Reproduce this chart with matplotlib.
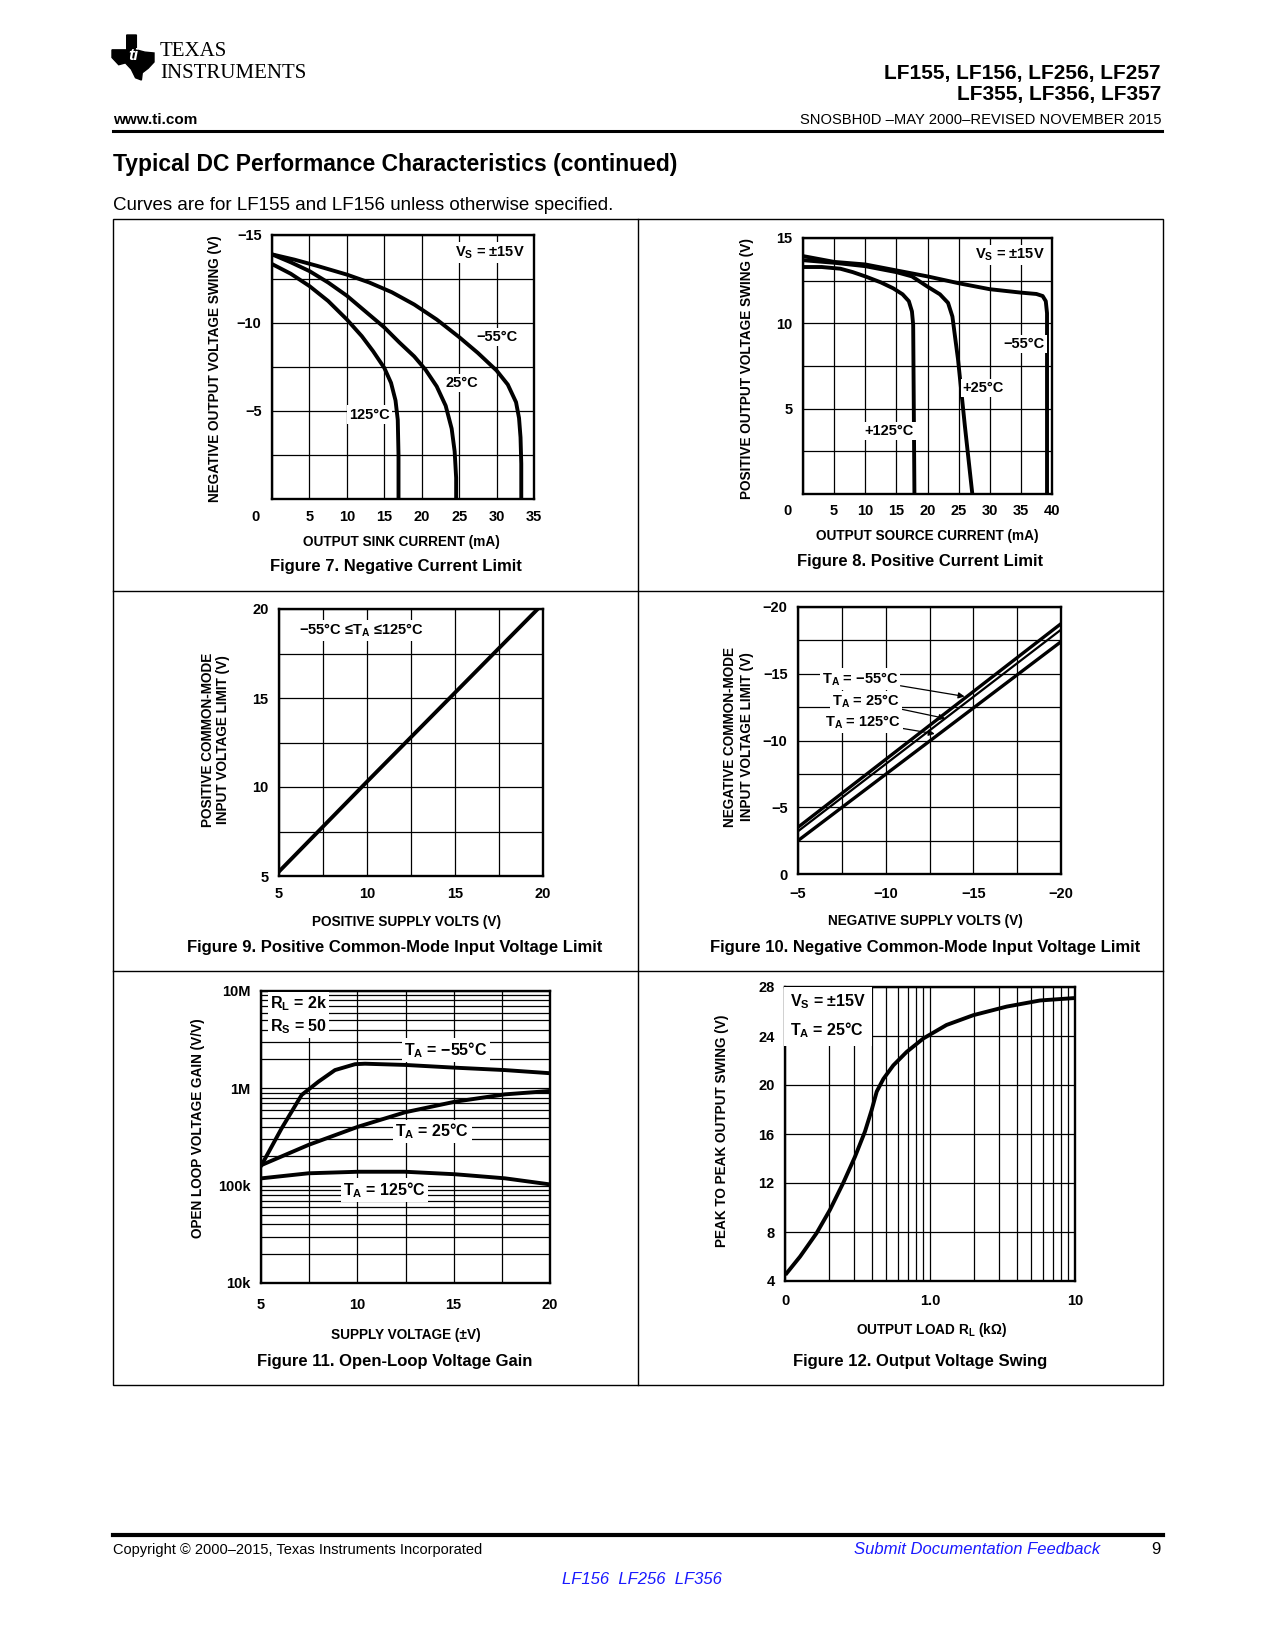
import numpy as np
import matplotlib.pyplot as plt
from matplotlib.lines import Line2D
from matplotlib.patches import Rectangle, Polygon
from matplotlib.ticker import FixedLocator, NullFormatter

W, H = 1275, 1650
NARROW = ['Liberation Sans', 'DejaVu Sans']
SANS = ['Liberation Sans', 'DejaVu Sans']

plt.rcParams['font.family'] = SANS
plt.rcParams['mathtext.fontset'] = 'custom'
plt.rcParams['mathtext.rm'] = 'Liberation Sans:bold'
plt.rcParams['mathtext.it'] = 'Liberation Sans:bold'
plt.rcParams['mathtext.bf'] = 'Liberation Sans:bold'

# ---- data ----
# Figure 7: negative current limit (sink current mA -> swing V)
f7_m55_i = [0, 3, 6, 10, 13, 16, 19, 22, 25, 27.5, 30, 31.5, 32.6, 33.0, 33.2, 33.3, 33.3]
f7_m55_v = [-13.9, -13.6, -13.25, -12.75, -12.3, -11.75, -11.05, -10.2, -9.2, -8.3, -7.3, -6.5, -5.5, -4.6, -3.5, -2.0, 0]
f7_25_i = [0, 2.5, 5, 7.5, 10, 12.5, 15, 17, 19, 20.5, 22, 23.2, 24.0, 24.4, 24.6, 24.6]
f7_25_v = [-13.9, -13.45, -12.95, -12.3, -11.55, -10.65, -9.75, -8.9, -8.1, -7.35, -6.4, -5.3, -4.0, -2.7, -1.2, 0]
f7_125_i = [0, 2.5, 5, 7.5, 10, 12, 13.5, 15, 15.9, 16.5, 16.8, 16.9, 16.9]
f7_125_v = [-13.35, -12.8, -12.1, -11.25, -10.2, -9.25, -8.4, -7.45, -6.6, -5.6, -4.5, -2.5, 0]

# Figure 8: positive current limit (source current mA -> swing V)
f8_m55_i = [0, 5, 10, 15, 20, 25, 30, 35, 37.5, 38.5, 39.0, 39.2, 39.2]
f8_m55_v = [13.94, 13.6, 13.45, 13.1, 12.75, 12.35, 12.0, 11.8, 11.72, 11.6, 11.3, 10.6, 0]
f8_25_i = [0, 5, 10, 15, 17.5, 20, 22, 23.3, 24.0, 24.5, 24.9, 26.0, 27.2]
f8_25_v = [13.7, 13.55, 13.35, 13.0, 12.75, 12.15, 11.7, 11.2, 10.4, 9.0, 7.9, 4.0, 0]
f8_125_i = [0, 3, 6, 8, 10, 12.5, 14.5, 16, 17, 17.5, 17.7, 17.9]
f8_125_v = [13.3, 13.3, 13.2, 13.0, 12.75, 12.4, 12.05, 11.7, 11.3, 10.7, 9.9, 0]

# Figure 9: positive common-mode input voltage limit
f9_vs = [5, 10, 15, 19.7]
f9_vcm = [5.25, 10.3, 15.3, 20]

# Figure 10: negative common-mode input voltage limit
f10_vs = [-5, -20]
f10_m55 = [-3.5, -18.75]
f10_25 = [-3.2, -18.3]
f10_125 = [-2.5, -17.4]

# Figure 11: open-loop voltage gain
f11_m55_vs = [5.03, 6.07, 7.11, 7.98, 8.84, 9.88, 10.4, 12.47, 15.07, 17.66, 20]
f11_m55_g = [1.63e5, 3.88e5, 8.55e5, 1.17e6, 1.54e6, 1.77e6, 1.79e6, 1.74e6, 1.63e6, 1.54e6, 1.43e6]
f11_25_vs = [5.03, 7.46, 10.05, 12.47, 15.07, 17.66, 20]
f11_25_g = [1.63e5, 2.62e5, 4.04e5, 5.67e5, 7.29e5, 8.67e5, 9.4e5]
f11_125_vs = [5.03, 7.46, 10.05, 12.47, 15.07, 17.66, 20]
f11_125_g = [1.19e5, 1.34e5, 1.39e5, 1.39e5, 1.31e5, 1.19e5, 1.03e5]

# Figure 12: output voltage swing vs load
f12_rl = [0.1026, 0.127, 0.165, 0.204, 0.252, 0.304, 0.356, 0.396, 0.429, 0.477, 0.558,
          0.69, 0.90, 1.30, 1.99, 3.38, 5.74, 10]
f12_vpp = [4.63, 5.99, 7.9, 9.8, 12.0, 14.15, 16.2, 17.96, 19.46, 20.5, 21.6,
           22.7, 23.8, 24.9, 25.7, 26.4, 26.9, 27.1]

fig = plt.figure(figsize=(12.75, 16.5), dpi=100)


def ftxt(x, y, s, **kw):
    kw.setdefault('va', 'center')
    fig.text(x / W, 1 - y / H, s, **kw)


def hline(x0, x1, y, lw):
    fig.add_artist(Line2D([x0 / W, x1 / W], [1 - y / H, 1 - y / H],
                          transform=fig.transFigure, color='black', lw=lw))


def vline(x, y0, y1, lw):
    fig.add_artist(Line2D([x / W, x / W], [1 - y0 / H, 1 - y1 / H],
                          transform=fig.transFigure, color='black', lw=lw))


def px_axes(l, t, r, b):
    return fig.add_axes([l / W, 1 - b / H, (r - l) / W, (b - t) / H])


TK = 10.5


def style(ax, xt, xl, yt, yl, xpad=8, ypad=7.5):
    ax.set_xticks(xt)
    ax.set_xticklabels(xl, fontfamily=NARROW, fontweight='bold', fontsize=TK)
    ax.set_yticks(yt)
    ax.set_yticklabels(yl, fontfamily=NARROW, fontweight='bold', fontsize=TK)
    ax.tick_params(axis='x', length=0, pad=xpad)
    ax.tick_params(axis='y', length=0, pad=ypad)
    ax.tick_params(which='minor', length=0)
    ax.grid(True, which='both', color='black', lw=0.9)
    ax.set_axisbelow(True)
    for s in ax.spines.values():
        s.set_linewidth(1.7)


def origin_zero(ax, dx, dy):
    ax.annotate('0', xy=(0, 0), xycoords='axes fraction', xytext=(dx * 0.72, dy * 0.72),
                textcoords='offset points', ha='center', va='center',
                fontfamily=NARROW, fontweight='bold', fontsize=TK)


lab = dict(fontfamily=NARROW, fontweight='bold', fontsize=9.8)
note = dict(fontfamily=NARROW, fontweight='bold', fontsize=10.5, ha='center', va='center')
wbox = dict(facecolor='white', edgecolor='none', pad=1.5)
cap = dict(fontfamily=SANS, fontweight='bold', fontsize=12, ha='center')
CW = 2.8

# ---- page furniture ----
logo = [(0.35, 0.0), (0.58, 0.0), (0.58, 0.33), (0.78, 0.38), (1.0, 0.4), (1.0, 0.6),
        (0.86, 0.74), (0.72, 0.84), (0.7, 1.0), (0.56, 0.95), (0.46, 0.76), (0.32, 0.62),
        (0.16, 0.66), (0.0, 0.5), (0.0, 0.33), (0.35, 0.33)]
fig.add_artist(Polygon([((112 + 42 * u) / W, 1 - (35 + 45 * v) / H) for u, v in logo],
                       closed=True, transform=fig.transFigure, color='black'))
ftxt(133, 55, 'ti', fontsize=12, fontweight='bold', style='italic', color='white', ha='center')
ftxt(160, 52, 'TEXAS', fontfamily=['Liberation Serif'], fontsize=15)
ftxt(160, 74, 'INSTRUMENTS', fontfamily=['Liberation Serif'], fontsize=15)

ftxt(1161, 73.6, 'LF155, LF156, LF256, LF257', ha='right', fontsize=15, fontweight='bold')
ftxt(1161, 94.7, 'LF355, LF356, LF357', ha='right', fontsize=15, fontweight='bold')
ftxt(112.6, 120, 'www.ti.com', fontsize=11, fontweight='bold')
ftxt(1161, 120, 'SNOSBH0D \u2013MAY 2000\u2013REVISED NOVEMBER 2015', ha='right', fontsize=10.6)
hline(112.6, 1162, 130.5, 2.2)
ftxt(112.6, 164, 'Typical DC Performance Characteristics (continued)', fontsize=16.5, fontweight='bold')
ftxt(112.6, 205, 'Curves are for LF155 and LF156 unless otherwise specified.', fontsize=13.5)

# table grid
fig.add_artist(Rectangle((112.6 / W, 1 - 1384.5 / H), (1162.6 - 112.6) / W, (1384.5 - 218.8) / H,
                         transform=fig.transFigure, fill=False, edgecolor='black', lw=1.0))
vline(637.5, 218.8, 1384.5, 1.0)
hline(112.6, 1162.6, 591.2, 1.0)
hline(112.6, 1162.6, 971, 1.0)

hline(112.6, 1162.6, 1535, 3.0)
ftxt(112.6, 1550, 'Copyright \u00a9 2000\u20132015, Texas Instruments Incorporated', fontsize=10.5)
ftxt(1100, 1550, 'Submit Documentation Feedback', ha='right', fontsize=12, style='italic', color='#1a1aff')
ftxt(1161, 1550, '9', ha='right', fontsize=12)
ftxt(641.7, 1580, 'LF156  LF256  LF356', ha='center', fontsize=12, style='italic', color='#1a1aff')

# ---- Figure 7 ----
ax = px_axes(272, 235, 534, 499)
ax.plot(f7_m55_i, f7_m55_v, color='black', lw=CW)
ax.plot(f7_25_i, f7_25_v, color='black', lw=CW)
ax.plot(f7_125_i, f7_125_v, color='black', lw=CW)
ax.set_xlim(0, 35)
ax.set_ylim(0, -15)
style(ax, np.arange(0, 36, 5), [''] + [str(v) for v in range(5, 36, 5)],
      np.arange(-15, 0.1, 2.5), ['\u221215', '', '\u221210', '', '\u22125', '', ''])
origin_zero(ax, -16, -18)
ax.text(29.1, -14.0, r'V$_{\rm S}$ = ' + '\u00b115V', bbox=wbox, **note)
ax.text(30, -9.2, '\u221255\u00b0C', bbox=wbox, **note)
ax.text(25.3, -6.6, '25\u00b0C', bbox=wbox, **note)
ax.text(13, -4.8, '125\u00b0C', bbox=wbox, **note)
ftxt(214.7, 369, 'NEGATIVE OUTPUT VOLTAGE SWING (V)', rotation=90, ha='center', **lab)
ftxt(401, 542, 'OUTPUT SINK CURRENT (mA)', ha='center', **lab)
ftxt(395.7, 567, 'Figure 7. Negative Current Limit', **cap)

# ---- Figure 8 ----
ax = px_axes(803, 238, 1052, 494)
ax.plot(f8_m55_i, f8_m55_v, color='black', lw=CW)
ax.plot(f8_25_i, f8_25_v, color='black', lw=CW)
ax.plot(f8_125_i, f8_125_v, color='black', lw=CW)
ax.set_xlim(0, 40)
ax.set_ylim(0, 15)
style(ax, np.arange(0, 41, 5), [''] + [str(v) for v in range(5, 41, 5)],
      np.arange(0, 15.1, 2.5), ['', '', '5', '', '10', '', '15'], xpad=7)
origin_zero(ax, -16, -17)
ax.text(33.3, 14.0, r'V$_{\rm S}$ = ' + '\u00b115V', bbox=wbox, **note)
ax.text(35.5, 8.8, '\u221255\u00b0C', bbox=wbox, **note)
ax.text(29.0, 6.2, '+25\u00b0C', bbox=wbox, **note)
ax.text(13.8, 3.7, '+125\u00b0C', bbox=wbox, **note)
ftxt(747, 369, 'POSITIVE OUTPUT VOLTAGE SWING (V)', rotation=90, ha='center', **lab)
ftxt(927, 536, 'OUTPUT SOURCE CURRENT (mA)', ha='center', **lab)
ftxt(920, 561, 'Figure 8. Positive Current Limit', **cap)

# ---- Figure 9 ----
ax = px_axes(279, 609, 543, 876)
ax.plot(f9_vs, f9_vcm, color='black', lw=CW)
ax.set_xlim(5, 20)
ax.set_ylim(5, 20)
style(ax, np.arange(5, 20.1, 2.5), ['5', '', '10', '', '15', '', '20'],
      np.arange(5, 20.1, 2.5), ['5', '', '10', '', '15', '', '20'])
ax.text(9.7, 18.8, '\u221255\u00b0C \u2264T$_{\\rm A}$ \u2264125\u00b0C', bbox=wbox, **note)
ftxt(208, 740, 'POSITIVE COMMON-MODE', rotation=90, ha='center', **lab)
ftxt(223, 740, 'INPUT VOLTAGE LIMIT (V)', rotation=90, ha='center', **lab)
ftxt(406, 922, 'POSITIVE SUPPLY VOLTS (V)', ha='center', **lab)
ftxt(394.7, 947.3, 'Figure 9. Positive Common-Mode Input Voltage Limit', **cap)

# ---- Figure 10 ----
ax = px_axes(798, 607, 1061, 874)
ax.plot(f10_vs, f10_m55, color='black', lw=2.4)
ax.plot(f10_vs, f10_25, color='black', lw=1.6)
ax.plot(f10_vs, f10_125, color='black', lw=2.4)
ax.set_xlim(-5, -20)
ax.set_ylim(0, -20)
style(ax, np.arange(-5, -20.1, -2.5), ['\u22125', '', '\u221210', '', '\u221215', '', '\u221220'],
      np.arange(0, -20.1, -2.5), ['0', '', '\u22125', '', '\u221210', '', '\u221215', '', '\u221220'],
      xpad=9.5)
arrow = dict(arrowstyle='-|>', color='black', lw=0.9, mutation_scale=9, shrinkA=0, shrinkB=0)
ax.annotate('T$_{\\rm A}$ = \u221255\u00b0C', xy=(-14.5, -13.3), xytext=(-8.55, -14.6),
            arrowprops=arrow, bbox=wbox, **note)
ax.annotate('T$_{\\rm A}$ = 25\u00b0C', xy=(-13.4, -11.65), xytext=(-8.9, -12.9),
            arrowprops=arrow, bbox=wbox, **note)
ax.annotate('T$_{\\rm A}$ = 125\u00b0C', xy=(-12.8, -10.5), xytext=(-8.7, -11.4),
            arrowprops=arrow, bbox=wbox, **note)
ftxt(730, 737, 'NEGATIVE COMMON-MODE', rotation=90, ha='center', **lab)
ftxt(747, 737, 'INPUT VOLTAGE LIMIT (V)', rotation=90, ha='center', **lab)
ftxt(925, 921, 'NEGATIVE SUPPLY VOLTS (V)', ha='center', **lab)
ftxt(925.3, 947.3, 'Figure 10. Negative Common-Mode Input Voltage Limit', **cap)

# ---- Figure 11 ----
ax = px_axes(261, 991, 550, 1283)
ax.set_yscale('log')
ax.plot(f11_m55_vs, f11_m55_g, color='black', lw=CW)
ax.plot(f11_25_vs, f11_25_g, color='black', lw=CW)
ax.plot(f11_125_vs, f11_125_g, color='black', lw=CW)
ax.set_xlim(5, 20)
ax.set_ylim(1e4, 1e7)
style(ax, np.arange(5, 20.1, 2.5), ['5', '', '10', '', '15', '', '20'],
      [1e4, 1e5, 1e6, 1e7], ['10k', '100k', '1M', '10M'], xpad=10.5)
ax.yaxis.set_minor_locator(FixedLocator([m * 10 ** d for d in (4, 5, 6) for m in range(2, 10)]))
ax.yaxis.set_minor_formatter(NullFormatter())
big = {**note, 'fontsize': 11.5}
ax.text(5.45, 7.4e6, 'R$_{\\rm L}$ = 2k', bbox=wbox, **{**big, 'ha': 'left'})
ax.text(5.45, 4.3e6, 'R$_{\\rm S}$ = 50', bbox=wbox, **{**big, 'ha': 'left'})
ax.text(14.6, 2.48e6, 'T$_{\\rm A}$ = \u221255\u00b0C', bbox=wbox, **big)
ax.text(13.9, 3.6e5, 'T$_{\\rm A}$ = 25\u00b0C', bbox=wbox, **big)
ax.text(11.4, 9.1e4, 'T$_{\\rm A}$ = 125\u00b0C', bbox=wbox, **big)
ftxt(198, 1128, 'OPEN LOOP VOLTAGE GAIN (V/V)', rotation=90, ha='center', **lab)
ftxt(406, 1335, 'SUPPLY VOLTAGE (\u00b1V)', ha='center', **lab)
ftxt(394.7, 1361.3, 'Figure 11. Open-Loop Voltage Gain', **cap)

# ---- Figure 12 ----
ax = px_axes(785, 987, 1075, 1281)
ax.set_xscale('log')
ax.plot(f12_rl, f12_vpp, color='black', lw=CW)
ax.set_xlim(0.1, 10)
ax.set_ylim(4, 28)
style(ax, [0.1, 1, 10], ['0', '1.0', '10'], np.arange(4, 28.1, 4),
      [str(v) for v in range(4, 29, 4)], xpad=9.5)
ax.xaxis.set_minor_locator(FixedLocator([m * 10 ** d for d in (-1, 0) for m in range(2, 10)]))
ax.xaxis.set_minor_formatter(NullFormatter())
ax.text(0.108, 27.55, 'V$_{\\rm S}$ = \u00b115V\nT$_{\\rm A}$ = 25\u00b0C', linespacing=1.6,
        bbox=dict(facecolor='white', edgecolor='none', pad=4),
        **{**note, 'ha': 'left', 'va': 'top', 'fontsize': 11.5})
ftxt(722, 1131, 'PEAK TO PEAK OUTPUT SWING (V)', rotation=90, ha='center', **lab)
ftxt(932, 1330, 'OUTPUT LOAD R$_{\\rm L}$ (k\u03a9)', ha='center', **lab)
ftxt(920.3, 1361.3, 'Figure 12. Output Voltage Swing', **cap)

fig.savefig('out.png', dpi=100)
